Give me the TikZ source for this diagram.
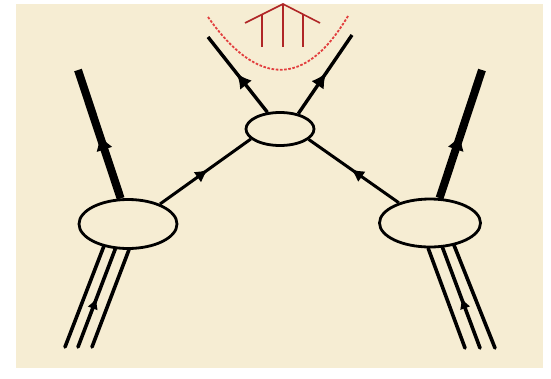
\documentclass[tikz,border=0pt]{standalone}
\usetikzlibrary{arrows.meta,decorations.markings,shapes.geometric}
\definecolor{parch}{RGB}{246,237,211}
\definecolor{redd}{RGB}{176,38,38}
\definecolor{redl}{RGB}{226,62,62}
\begin{document}
\begin{tikzpicture}[x=1pt,y=-1pt,
  cell/.style={ellipse,draw,line width=2.8pt,inner sep=0pt},
  conn/.style={line width=3pt},
  thickline/.style={line width=8pt},
  tri/.style={line width=3.6pt,line cap=round},
  marrow/.style 2 args={postaction={decorate},decoration={markings,
      mark=at position #1 with {\arrow{Latex[length=#2pt,width=#2pt]}}}},
  bigarrow/.style={postaction={decorate},decoration={markings,
      mark=at position #1 with {\arrow{Latex[length=16pt,width=17pt]}}}},
  redline/.style={draw=redd,line width=1.6pt},
  reddash/.style={draw=redl,line width=1.8pt,dash pattern=on 2.6pt off 1.6pt}]
\useasboundingbox (0,0) rectangle (551,378);
\fill[white] (0,0) rectangle (551,378);
\fill[parch] (16,4) rectangle (543,368);
% cells
\node[cell,minimum width=98pt,minimum height=49pt] (L) at (128,224) {};
\node[cell,minimum width=101pt,minimum height=48pt] (R) at (430,223) {};
\node[cell,minimum width=68pt,minimum height=33pt] (T) at (280,129) {};
% free ends
\coordinate (ltop) at (78,70);
\coordinate (rtop) at (482,70);
\coordinate (tl) at (208,37);
\coordinate (tr) at (352,35);
\coordinate (lb1) at (65,347);
\coordinate (lb2) at (78,347);
\coordinate (lb3) at (92,347);
\coordinate (rb1) at (465,348);
\coordinate (rb2) at (480,348);
\coordinate (rb3) at (495,348);
% thick outputs
\draw[thickline,bigarrow=0.5] (L.106) -- (ltop);
\draw[thickline,bigarrow=0.5] (R.69) -- (rtop);
% connections to top cell
\draw[conn,marrow={0.53}{13}] (L.32) -- (T.199);
\draw[conn,marrow={0.53}{13}] (R.147) -- (T.340);
% top outputs
\draw[conn,line width=3.4pt,marrow={0.52}{15}] (T.127) -- (tl);
\draw[conn,line width=3.4pt,marrow={0.52}{15}] (T.40) -- (tr);
% inputs
\draw[tri] (lb1) -- (L.223);
\draw[tri,marrow={0.5}{11}] (lb2) -- (L.243);
\draw[tri] (lb3) -- (L.272);
\draw[tri] (rb1) -- (R.266);
\draw[tri,marrow={0.5}{11}] (rb2) -- (R.297);
\draw[tri] (rb3) -- (R.317);
% red symbol
\coordinate (ra) at (283,4);
\coordinate (rl) at (245,23);
\coordinate (rr) at (320,23);
\draw[redline] (rl) -- (ra) -- (rr);
\draw[redline] (ra) -- (283,47);
\draw[redline] (262,14.5) -- (262,47);
\draw[redline] (303,14.5) -- (303,47);
\coordinate (dl) at (208,17);
\coordinate (dr) at (348,16);
\draw[reddash] (dl) .. controls (258,88) and (306,87) .. (dr);
\end{tikzpicture}
\end{document}
